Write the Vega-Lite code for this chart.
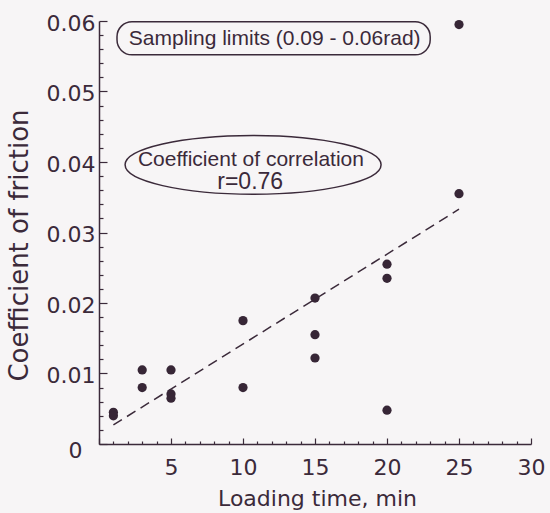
{
  "$schema": "https://vega.github.io/schema/vega-lite/v6.json",
  "width": 432,
  "height": 423,
  "autosize": {"type": "none"},
  "padding": {"left": 99, "top": 21, "right": 19, "bottom": 69},
  "background": "#f7f5f6",
  "config": {
    "view": {"stroke": null},
    "axis": {
      "domainColor": "#3b2a3a",
      "domainWidth": 1.5,
      "tickColor": "#3b2a3a",
      "tickWidth": 1.2,
      "labelColor": "#3b2a3a",
      "titleColor": "#3b2a3a",
      "labelFont": "DejaVu Sans",
      "titleFont": "DejaVu Sans",
      "titleFontWeight": "normal",
      "grid": false
    }
  },
  "datasets": {
    "friction": [
      {"time": 1, "mu": 0.0045},
      {"time": 1, "mu": 0.004},
      {"time": 3, "mu": 0.0105},
      {"time": 3, "mu": 0.008},
      {"time": 5, "mu": 0.0105},
      {"time": 5, "mu": 0.0071},
      {"time": 5, "mu": 0.0065},
      {"time": 10, "mu": 0.0175},
      {"time": 10, "mu": 0.008},
      {"time": 15, "mu": 0.0207},
      {"time": 15, "mu": 0.0155},
      {"time": 15, "mu": 0.0122},
      {"time": 20, "mu": 0.0255},
      {"time": 20, "mu": 0.0235},
      {"time": 20, "mu": 0.0048},
      {"time": 25, "mu": 0.0595},
      {"time": 25, "mu": 0.0355}
    ],
    "fit": [
      {"time": 1, "mu": 0.0027},
      {"time": 25, "mu": 0.0333}
    ]
  },
  "resolve": {"axis": {"x": "independent", "y": "independent"}},
  "layer": [
    {
      "data": {"values": [{}]},
      "mark": {"type": "rect", "fill": null, "stroke": "#3b2a3a", "strokeWidth": 1.5, "cornerRadius": 15},
      "encoding": {
        "x": {"datum": 1.25, "type": "quantitative", "axis": null},
        "x2": {"datum": 23.0},
        "y": {"datum": 0.0552, "type": "quantitative", "axis": null},
        "y2": {"datum": 0.0599}
      }
    },
    {
      "data": {"values": [{}]},
      "mark": {
        "type": "point",
        "shape": "M -1 0 C -1 -0.127 -0.552 -0.23 0 -0.23 C 0.552 -0.23 1 -0.127 1 0 C 1 0.127 0.552 0.23 0 0.23 C -0.552 0.23 -1 0.127 -1 0 Z",
        "size": 65536,
        "filled": false,
        "stroke": "#3b2a3a",
        "strokeWidth": 1.5,
        "opacity": 1
      },
      "encoding": {
        "x": {"datum": 10.7, "type": "quantitative", "axis": null},
        "y": {"datum": 0.0396, "type": "quantitative", "axis": null}
      }
    },
    {
      "data": {"values": [{"note": "Sampling limits (0.09 - 0.06rad)"}]},
      "mark": {"type": "text", "font": "Liberation Sans", "fontSize": 21, "color": "#3b2a3a", "align": "center", "baseline": "middle"},
      "encoding": {
        "x": {"datum": 12.2, "type": "quantitative", "axis": null},
        "y": {"datum": 0.0574, "type": "quantitative", "axis": null},
        "text": {"field": "note"}
      }
    },
    {
      "data": {"values": [{"note": "Coefficient of correlation"}]},
      "mark": {"type": "text", "font": "Liberation Sans", "fontSize": 21, "color": "#3b2a3a", "align": "center", "baseline": "alphabetic"},
      "encoding": {
        "x": {"datum": 10.55, "type": "quantitative", "axis": null},
        "y": {"datum": 0.0395, "type": "quantitative", "axis": null},
        "text": {"field": "note"}
      }
    },
    {
      "data": {"values": [{"note": "r=0.76"}]},
      "mark": {"type": "text", "font": "Liberation Sans", "fontSize": 23, "color": "#3b2a3a", "align": "center", "baseline": "alphabetic"},
      "encoding": {
        "x": {"datum": 10.5, "type": "quantitative", "axis": null},
        "y": {"datum": 0.0362, "type": "quantitative", "axis": null},
        "text": {"field": "note"}
      }
    },
    {
      "data": {"name": "fit"},
      "mark": {"type": "line", "color": "#3b2a3a", "strokeWidth": 1.5, "strokeDash": [10, 6]},
      "encoding": {
        "x": {
          "field": "time",
          "type": "quantitative",
          "axis": {
            "orient": "bottom",
            "title": null,
            "labels": false,
            "domain": false,
            "tickSize": -3,
            "values": [1,2,3,4,6,7,8,9,11,12,13,14,16,17,18,19,21,22,23,24,26,27,28,29]
          }
        },
        "y": {
          "field": "mu",
          "type": "quantitative",
          "axis": {
            "orient": "left",
            "title": null,
            "labels": false,
            "domain": false,
            "tickSize": -4,
            "values": [0.002,0.004,0.006,0.008,0.012,0.014,0.016,0.018,0.022,0.024,0.026,0.028,0.032,0.034,0.036,0.038,0.042,0.044,0.046,0.048,0.052,0.054,0.056,0.058]
          }
        }
      }
    },
    {
      "data": {"name": "friction"},
      "mark": {"type": "circle", "size": 85, "color": "#372636", "opacity": 1},
      "encoding": {
        "x": {
          "field": "time",
          "type": "quantitative",
          "scale": {"domain": [0, 30], "nice": false, "zero": false},
          "axis": {
            "orient": "bottom",
            "title": "Loading time, min",
            "titleFontSize": 22,
            "titleBaseline": "alphabetic",
            "titleX": 218,
            "titleY": 61,
            "titleAnchor": null,
            "values": [0, 5, 10, 15, 20, 25, 30],
            "labelExpr": "datum.value > 0 ? datum.label : ''",
            "labelFontSize": 22,
            "labelFlush": false,
            "labelOverlap": false,
            "labelPadding": 19,
            "tickSize": -6
          }
        },
        "y": {
          "field": "mu",
          "type": "quantitative",
          "scale": {"domain": [0, 0.06], "nice": false, "zero": false},
          "axis": {
            "orient": "left",
            "title": "Coefficient of friction",
            "titleFontSize": 26,
            "titleAngle": -90,
            "titleBaseline": "alphabetic",
            "titleAnchor": null,
            "titleX": -72,
            "titleY": 224,
            "values": [0, 0.01, 0.02, 0.03, 0.04, 0.05, 0.06],
            "labelExpr": "datum.value === 0 ? '0' : format(datum.value, '.2f')",
            "labelFontSize": 22,
            "labelFlush": false,
            "labelOverlap": false,
            "labelPadding": {"condition": {"test": "datum.value === 0", "value": 25}, "value": 12},
            "labelOffset": {"condition": {"test": "datum.value === 0", "value": 6}, "value": 2},
            "tickSize": -8
          }
        }
      }
    }
  ]
}
